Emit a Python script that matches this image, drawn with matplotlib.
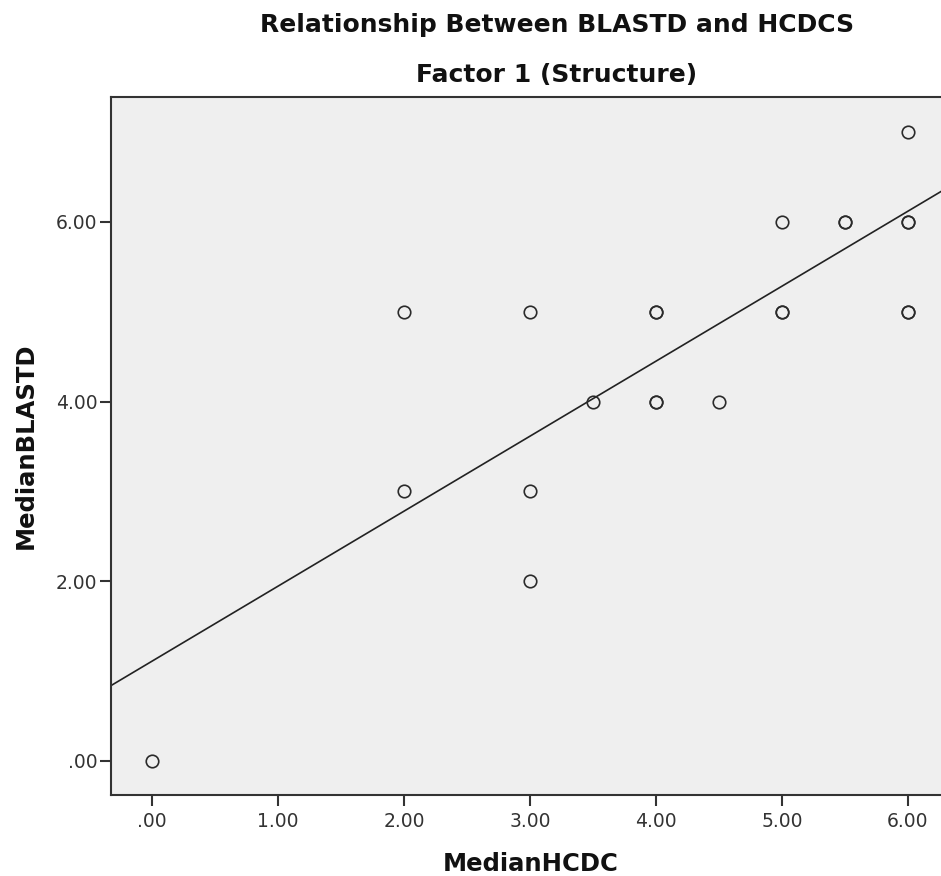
import matplotlib
matplotlib.use("Agg")
import matplotlib.pyplot as plt
import numpy as np

# Data (duplicates drawn as overlapping points)
median_hcdc = [0, 2, 2, 3, 3, 3, 3.5, 4, 4, 4, 4, 4.5, 5, 5, 5, 5.5, 5.5, 6, 6, 6, 6, 6]
median_blastd = [0, 5, 3, 5, 3, 2, 4, 5, 5, 4, 4, 4, 6, 5, 5, 6, 6, 7, 6, 6, 5, 5]

fit_intercept = 1.11
fit_slope = 0.835

x_ticks = [0, 1, 2, 3, 4, 5, 6]
x_tick_labels = [".00", "1.00", "2.00", "3.00", "4.00", "5.00", "6.00"]
y_ticks = [0, 2, 4, 6]
y_tick_labels = [".00", "2.00", "4.00", "6.00"]

title_line1 = "Relationship Between BLASTD and HCDCS"
title_line2 = "Factor 1 (Structure)"

plt.rcParams['font.family'] = ['DejaVu Sans']

W, H = 941, 876
fig = plt.figure(figsize=(W / 100, H / 100), dpi=100)
left_px, right_px, top_px, bottom_px = 110.7, 943, 97.3, 795
ax = fig.add_axes([left_px / W, 1 - bottom_px / H, (right_px - left_px) / W, (bottom_px - top_px) / H])
ax.set_facecolor("#efefef")

ax.axline((0, fit_intercept), slope=fit_slope, color="#222222", lw=1.2, zorder=2)
ax.plot(median_hcdc, median_blastd, linestyle="none", marker="o", markersize=9,
        markerfacecolor="none", markeredgecolor="#2a2a2a", markeredgewidth=1.2, zorder=3)

ax.set_xlim(-0.330, 6.278)
ax.set_ylim(-0.382, 7.388)
ax.set_xticks(x_ticks)
ax.set_xticklabels(x_tick_labels)
ax.set_yticks(y_ticks)
ax.set_yticklabels(y_tick_labels)
ax.tick_params(direction="out", length=8, width=1.5, labelsize=13.5, colors="#333333")
ax.tick_params(axis="x", pad=4)
ax.tick_params(axis="y", pad=1.5)
for side in ["left", "bottom", "top", "right"]:
    ax.spines[side].set_color("#333333")
    ax.spines[side].set_linewidth(1.5)

ax.set_xlabel("MedianHCDC", fontsize=17.5, fontweight="bold", color="#111111")
ax.set_ylabel("MedianBLASTD", fontsize=17.5, fontweight="bold", color="#111111")
ax.xaxis.label.set_va("baseline")
ax.xaxis.set_label_coords((531 - left_px) / (right_px - left_px), (bottom_px - 871) / (bottom_px - top_px))
ax.yaxis.set_label_coords((38 - left_px) / (right_px - left_px), 0.5)

fig.text(557 / W, 1 - 32 / H, title_line1, ha="center", va="baseline", fontsize=18, fontweight="bold", color="#111111")
fig.text(557 / W, 1 - 82 / H, title_line2, ha="center", va="baseline", fontsize=18, fontweight="bold", color="#111111")

fig.savefig("out.png", dpi=100)
